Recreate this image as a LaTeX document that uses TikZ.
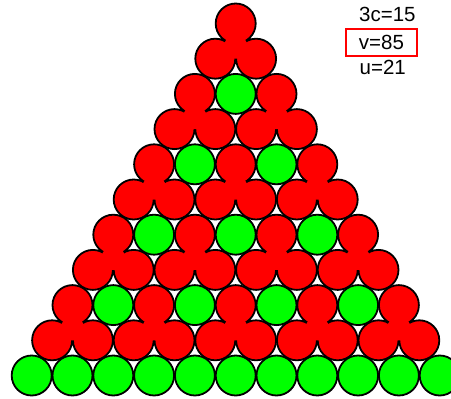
\documentclass[tikz,border=0pt]{standalone}
\usepackage{fontspec}
\setmainfont{Liberation Sans}
\definecolor{ballred}{RGB}{255,0,0}
\definecolor{ballgreen}{RGB}{0,255,0}
\tikzset{
  redball/.style={fill=ballred, draw=black, line width=1.8pt},
  greenball/.style={fill=ballgreen, draw=black, line width=1.8pt},
  lbl/.style={anchor=base west, inner sep=0pt, font=\fontsize{20.5}{24}\selectfont},
  boxtext/.style={minimum width=71pt, minimum height=27pt, inner sep=0pt, font=\fontsize{20.5}{24}\selectfont},
  redframe/.style={draw=ballred, line width=2pt}
}
\newcommand\bx[2]{\pgfmathsetmacro\resx{235.7+((#2)-(#1)/2)*40.8}}
\newcommand\by[1]{\pgfmathsetmacro\resy{23.5+(#1)*35.2}}
\begin{document}
\begin{tikzpicture}[x=1pt,y=-1pt]
\useasboundingbox (0,0) rectangle (451,399);
% labels
\node[lbl] (c) at (359,21.7) {3c=15};
\node[boxtext] (v) at (381.5,42.5) {v=85};
\node[lbl] (u) at (359.5,74) {u=21};
\path[redframe] (v.north west) rectangle (v.south east);
\begin{scope}
\clip (0,0) rectangle (451,399);
% red triples
\foreach \i in {0,2,4,6,8} {
  \pgfmathtruncatemacro\n{\i/2}
  \foreach \k in {0,...,\n} {
    \pgfmathtruncatemacro\j{2*\k}
    \pgfmathtruncatemacro\ii{\i+1}
    \pgfmathtruncatemacro\jj{\j+1}
    \bx{\i}{\j}\by{\i}\coordinate (A) at (\resx,\resy);
    \bx{\ii}{\j}\by{\ii}\coordinate (B) at (\resx,\resy);
    \bx{\ii}{\jj}\by{\ii}\coordinate (C) at (\resx,\resy);
    \path[redball] (A) circle (20pt) (B) circle (20pt) (C) circle (20pt);
    \fill[ballred] (A) -- (B) -- (C) -- cycle;
  }
}
% green balls in even rows
\foreach \i in {2,4,6,8} {
  \pgfmathtruncatemacro\n{\i/2}
  \foreach \k in {1,...,\n} {
    \pgfmathtruncatemacro\j{2*\k-1}
    \bx{\i}{\j}\by{\i}
    \path[greenball] (\resx,\resy) circle (20pt);
  }
}
% bottom row
\foreach \j in {0,...,10} {
  \bx{10}{\j}\by{10}
  \path[greenball] (\resx,\resy) circle (20pt);
}
\end{scope}
\end{tikzpicture}
\end{document}
